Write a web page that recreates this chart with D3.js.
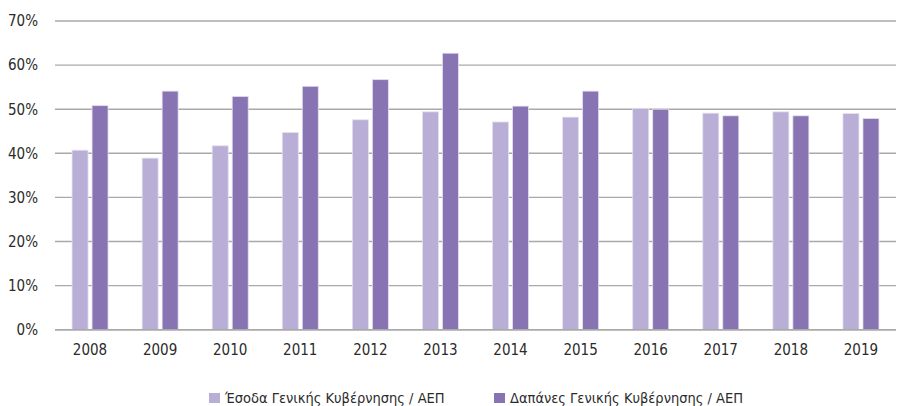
<!DOCTYPE html>
<html>
<head>
<meta charset="utf-8">
<script src="https://cdn.jsdelivr.net/npm/d3@7"></script>
<style>
  body { margin: 0; background: #fff; }
  text { font-family: "Liberation Sans Narrow", "DejaVu Sans Condensed", "Roboto", sans-serif; fill: #2b2b2b; }
</style>
</head>
<body>
<div class="canvas"></div>
<script>
// data (% of GDP)
const years = ['2008','2009','2010','2011','2012','2013','2014','2015','2016','2017','2018','2019'];
const revenue = [40.7, 38.9, 41.7, 44.7, 47.6, 49.4, 47.1, 48.2, 50.2, 49.1, 49.4, 49.0];
const spending = [50.8, 54.1, 52.9, 55.2, 56.7, 62.7, 50.7, 54.1, 50.0, 48.5, 48.5, 47.9];
const seriesNames = ['Έσοδα Γενικής Κυβέρνησης / ΑΕΠ', 'Δαπάνες Γενικής Κυβέρνησης / ΑΕΠ'];
const yTicks = [0, 10, 20, 30, 40, 50, 60, 70];

const colors = ['#b9aed5', '#8873b3'];
const W = 897, H = 406;

const svg = d3.select('.canvas').append('svg').attr('width', W).attr('height', H);

const x0 = d3.scaleBand().domain(years).range([55, 896]);
const x1 = d3.scaleBand().domain([0, 1]).range([-18, 18]).paddingInner(0.2);
const y = d3.scaleLinear().domain([0, 70]).range([329.7, 21]);

// gridlines
svg.append('g').selectAll('line').data(yTicks).join('line')
  .attr('x1', 55).attr('x2', 896)
  .attr('y1', d => y(d)).attr('y2', d => y(d))
  .attr('stroke', '#a9a9a9').attr('stroke-width', 1.4);

// y axis labels
const yAxis = d3.axisLeft(y).tickValues(yTicks).tickFormat(d => d + '%').tickSize(0).tickPadding(0);
const gy = svg.append('g').attr('transform', 'translate(38,0)').call(yAxis);
gy.select('.domain').remove();
gy.selectAll('text').style('font-size', '15px').attr('fill', '#2b2b2b')
  .attr('font-family', null);

// bars
const rows = years.map((yr, i) => ({ yr, vals: [revenue[i], spending[i]] }));
const groups = svg.append('g').selectAll('g').data(rows).join('g')
  .attr('transform', d => `translate(${x0(d.yr) + x0.bandwidth() / 2},0)`);
groups.selectAll('rect').data(d => d.vals.map((v, k) => ({ v, k }))).join('rect')
  .attr('x', d => x1(d.k))
  .attr('width', x1.bandwidth())
  .attr('y', d => y(d.v))
  .attr('height', d => y(0) - y(d.v))
  .attr('fill', d => colors[d.k])
  .attr('stroke', '#e4e0ef').attr('stroke-width', 0.8);

// baseline on top
svg.append('line').attr('x1', 55).attr('x2', 896).attr('y1', y(0)).attr('y2', y(0))
  .attr('stroke', '#a9a9a9').attr('stroke-width', 1.4);

// x axis
const xAxis = d3.axisBottom(x0).tickSize(0).tickPadding(0);
const gx = svg.append('g').attr('transform', 'translate(0,344)').call(xAxis);
gx.select('.domain').remove();
gx.selectAll('text').style('font-size', '15px').attr('fill', '#2b2b2b').attr('dy', '0.7em');

// legend
const legX = [209, 494];
const leg = svg.append('g').selectAll('g').data(seriesNames).join('g')
  .attr('transform', (d, i) => `translate(${legX[i]},393)`);
leg.append('rect').attr('width', 11).attr('height', 10).attr('fill', (d, i) => colors[i]);
leg.append('text').attr('x', 16).attr('y', 10).style('font-size', '14.5px').text(d => d);
</script>
</body>
</html>
